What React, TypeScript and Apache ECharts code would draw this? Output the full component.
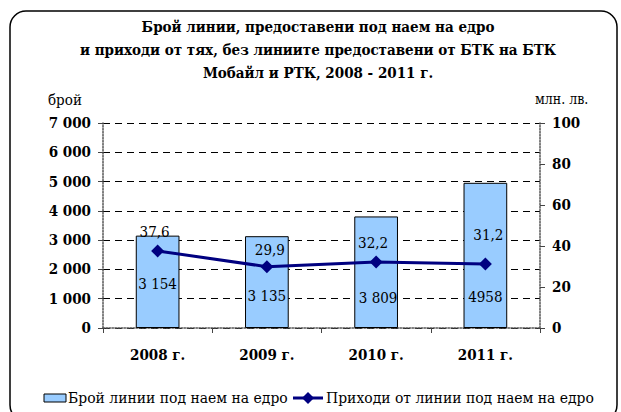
import React, { useEffect, useRef } from "react";
import * as echarts from "echarts";

const categories = ["2008 г.", "2009 г.", "2010 г.", "2011 г."];
const lineCounts = [3154, 3135, 3809, 4958];
const lineCountLabels = ["3 154", "3 135", "3 809", "4958"];
const revenues = [37.6, 29.9, 32.2, 31.2];
const leftTicks = { min: 0, max: 7000, interval: 1000 };
const rightTicks = { min: 0, max: 100, interval: 20 };
const titleLines = [
  "Брой линии, предоставени под наем на едро",
  "и приходи от тях, без линиите предоставени от БТК на БТК",
  "Мобайл и РТК, 2008 - 2011 г.",
];
const seriesNames = ["Брой линии под наем на едро", "Приходи от линии под наем на едро"];
const leftUnit = "брой";
const rightUnit = "млн. лв.";

const FONT = "DejaVu Serif Condensed";

export default function App() {
  const ref = useRef<HTMLDivElement>(null);
  useEffect(() => {
    if (!ref.current) return;
    const chart = echarts.init(ref.current, null, { renderer: "svg" });
    const barOffsets = [[0, -32], [0, -20], [2, -18], [0, -19]];
    const lineOffsets = [[-3, 0], [3, 2], [-3, 0], [3, -10]];
    const fmtThousands = (v: number) => String(v).replace(/\B(?=(\d{3})+(?!\d))/g, " ");
    const titleY = [27, 50, 73];
    chart.setOption({
      animation: false,
      backgroundColor: "#ffffff",
      textStyle: { fontFamily: FONT },
      grid: { left: 103, right: 81, top: 123, bottom: 84 },
      xAxis: {
        type: "category",
        data: categories,
        boundaryGap: true,
        axisLine: { lineStyle: { color: "#555", type: "dotted", width: 1.5 } },
        axisTick: { show: true, length: 5, lineStyle: { color: "#444" } },
        axisLabel: { margin: 19, fontFamily: FONT, fontSize: 15, fontWeight: "bold", color: "#000" },
        splitLine: { show: false },
      },
      yAxis: [
        {
          type: "value",
          ...leftTicks,
          axisLine: { show: true, lineStyle: { color: "#555", type: "dotted", width: 1.5 } },
          axisTick: { show: true, length: 5, lineStyle: { color: "#444" } },
          axisLabel: {
            margin: 12,
            fontFamily: FONT,
            fontSize: 15,
            fontWeight: "bold",
            color: "#000",
            formatter: (v: number) => fmtThousands(v),
          },
          splitLine: { show: true, lineStyle: { color: "#000", type: [7, 5], width: 1 } },
        },
        {
          type: "value",
          ...rightTicks,
          position: "right",
          axisLine: { show: true, lineStyle: { color: "#555", type: "dotted", width: 1.5 } },
          axisTick: { show: true, length: 5, lineStyle: { color: "#444" } },
          axisLabel: { margin: 12, fontFamily: FONT, fontSize: 15, fontWeight: "bold", color: "#000" },
          splitLine: { show: false },
        },
      ],
      series: [
        {
          name: seriesNames[0],
          type: "bar",
          yAxisIndex: 0,
          barWidth: "40%",
          itemStyle: { color: "#99CCFF", borderColor: "#000", borderWidth: 1 },
          data: lineCounts.map((v, i) => ({
            value: v,
            label: {
              show: true,
              position: "insideBottom",
              distance: 5,
              offset: barOffsets[i],
              formatter: () => lineCountLabels[i],
              fontFamily: FONT,
              fontSize: 15,
              color: "#000",
            },
          })),
        },
        {
          name: seriesNames[1],
          type: "line",
          yAxisIndex: 1,
          symbol: "diamond",
          symbolSize: 13,
          lineStyle: { color: "#000080", width: 3 },
          itemStyle: { color: "#000080" },
          data: revenues.map((v, i) => ({
            value: v,
            label: {
              show: true,
              position: "top",
              distance: 5,
              offset: lineOffsets[i],
              formatter: (p: any) => String(p.value).replace(".", ","),
              fontFamily: FONT,
              fontSize: 15,
              color: "#000",
            },
          })),
        },
      ],
      graphic: [
        {
          type: "rect",
          shape: { x: 10, y: 11, width: 607, height: 410, r: 16 },
          style: { fill: "none", stroke: "#000", lineWidth: 1.5 },
          z: -1,
        },
        ...titleLines.map((t, i) => ({
          type: "text",
          x: 318,
          y: titleY[i],
          style: {
            text: t,
            fontFamily: FONT,
            fontSize: 15,
            fontWeight: "bold",
            fill: "#000",
            textAlign: "center",
            textVerticalAlign: "middle",
          },
        })),
        {
          type: "text",
          left: 48,
          top: 92,
          style: { text: leftUnit, fontFamily: FONT, fontSize: 15, fill: "#000" },
        },
        {
          type: "text",
          left: 535,
          top: 92,
          style: { text: rightUnit, fontFamily: FONT, fontSize: 14, fill: "#000" },
        },
        {
          type: "rect",
          shape: { x: 44, y: 394, width: 22, height: 8 },
          style: { fill: "#99CCFF", stroke: "#000", lineWidth: 1 },
        },
        {
          type: "text",
          x: 68,
          y: 398,
          style: { text: seriesNames[0], fontFamily: FONT, fontSize: 15.5, fill: "#000", textVerticalAlign: "middle" },
        },
        {
          type: "line",
          shape: { x1: 293, y1: 398, x2: 323, y2: 398 },
          style: { stroke: "#000080", lineWidth: 3 },
        },
        {
          type: "polygon",
          shape: { points: [[308, 392], [314, 398], [308, 404], [302, 398]] },
          style: { fill: "#000080" },
        },
        {
          type: "text",
          x: 326,
          y: 398,
          style: { text: seriesNames[1], fontFamily: FONT, fontSize: 15.5, fill: "#000", textVerticalAlign: "middle" },
        },
      ],
    });
    return () => chart.dispose();
  }, []);
  return (
    <div
      ref={ref}
      style={{ position: "fixed", left: 0, top: 0, width: 621, height: 412, background: "#fff" }}
    />
  );
}
